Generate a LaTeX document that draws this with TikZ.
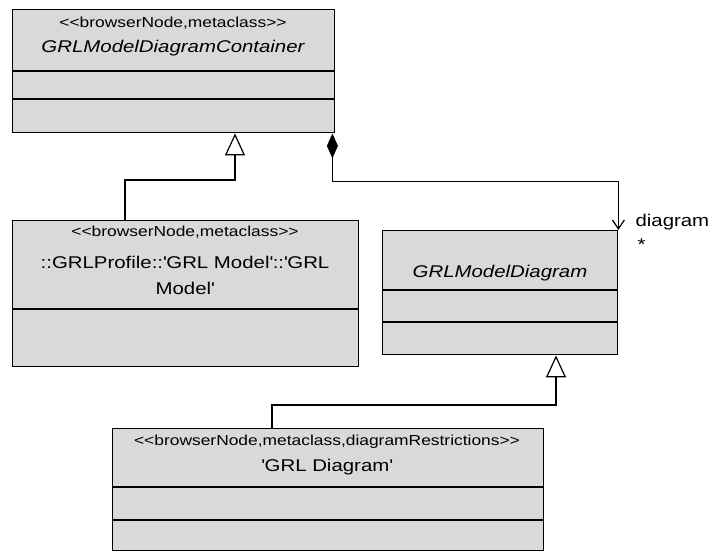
\documentclass[tikz,border=0pt]{standalone}
\usepackage{fontspec}
\setmainfont{Liberation Sans}[FakeStretch=1.2]
\usepackage{tikz}
\usetikzlibrary{arrows.meta,calc}
\definecolor{boxfill}{HTML}{D9D9D9}
\newcommand{\stereo}[1]{<{}<#1>{}>}
\newcommand{\sq}{\textquotesingle}

\begin{document}
\begin{tikzpicture}[x=1pt,y=-1pt,
   umlclass/.style={draw,fill=boxfill,line width=1.4pt,anchor=north west,inner sep=0pt},
   stereotext/.style={font=\fontsize{14.5}{17}\selectfont},
   nametext/.style={font=\fontsize{17}{26}\selectfont,align=center},
   compart/.style={line width=1.4pt},
   inherit/.style={line width=1.2pt,-{Triangle[length=22pt,width=20pt,fill=white]}},
   compose/.style={line width=1.2pt,{Diamond[length=25pt,width=11pt]}-{Straight Barb[length=9pt,width=12pt]}}]
  \fill[white] (0,0) rectangle (712,552);
  \useasboundingbox (0,0) rectangle (712,552);
  % class boxes
  \node[umlclass,minimum width=322pt,minimum height=123pt] (cont) at (12,9) {};
  \node[umlclass,minimum width=346pt,minimum height=146pt] (prof) at (12,220) {};
  \node[umlclass,minimum width=235pt,minimum height=124pt] (diag) at (382,230) {};
  \node[umlclass,minimum width=431pt,minimum height=122pt] (grld) at (112,428) {};
  % compartments
  \draw[compart] ([yshift=-62pt]cont.north west) -- ([yshift=-62pt]cont.north east);
  \draw[compart] ([yshift=-90pt]cont.north west) -- ([yshift=-90pt]cont.north east);
  \draw[compart] ([yshift=-89pt]prof.north west) -- ([yshift=-89pt]prof.north east);
  \draw[compart] ([yshift=-60pt]diag.north west) -- ([yshift=-60pt]diag.north east);
  \draw[compart] ([yshift=-92pt]diag.north west) -- ([yshift=-92pt]diag.north east);
  \draw[compart] ([yshift=-59pt]grld.north west) -- ([yshift=-59pt]grld.north east);
  \draw[compart] ([yshift=-92pt]grld.north west) -- ([yshift=-92pt]grld.north east);
  % texts
  \node[stereotext] (cont-st) at (173,23) {\stereo{browserNode,metaclass}};
  \node[nametext] (cont-nm) at (173,48) {\itshape GRLModelDiagramContainer};
  \node[stereotext] (prof-st) at (185,232) {\stereo{browserNode,metaclass}};
  \node[nametext] (prof-nm) at (185,275) {::GRLProfile::\sq GRL Model\sq::\sq GRL\\Model\sq};
  \node[nametext] (diag-nm) at (500,273) {\itshape GRLModelDiagram};
  \node[stereotext] (grld-st) at (327,442) {\stereo{browserNode,metaclass,diagramRestrictions}};
  \node[nametext] (grld-nm) at (327,467) {\sq GRL Diagram\sq};
  \node[nametext,anchor=west] (role) at (632,222) {diagram};
  \node[nametext,anchor=west] (mult) at (634,245) {*};
  % connectors
  \draw[inherit] ([xshift=113pt]prof.north west) -- ++(0,-40) -| ([xshift=223pt]cont.south west);
  \draw[compose] ([xshift=-3pt]cont.south east) -- ++(0,48) -| (diag.north east);
  \draw[inherit] ([xshift=160pt]grld.north west) -- ++(0,-23) -| ([xshift=174pt]diag.south west);
\end{tikzpicture}
\end{document}
